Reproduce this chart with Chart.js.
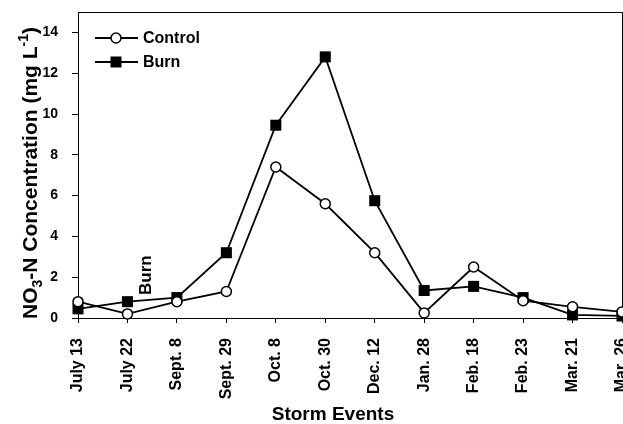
<!DOCTYPE html>
<html>
<head>
<meta charset="utf-8">
<script src="https://cdn.jsdelivr.net/npm/chart.js@4"></script>
<style>
  body { margin: 0; background: #fff; }
  canvas { display: block; }
</style>
</head>
<body>
<canvas id="no3Chart" width="623" height="424"></canvas>
<script>
// storm events and measured NO3-N (mg/L)
const storms = ['July 13', 'July 22', 'Sept. 8', 'Sept. 29', 'Oct. 8', 'Oct. 30',
                'Dec. 12', 'Jan. 28', 'Feb. 18', 'Feb. 23', 'Mar. 21', 'Mar. 26'];
const control = [0.8, 0.2, 0.8, 1.3, 7.4, 5.6, 3.2, 0.25, 2.5, 0.85, 0.55, 0.3];
const burn = [0.45, 0.8, 1.0, 3.2, 9.45, 12.8, 5.75, 1.35, 1.55, 1.0, 0.15, 0.1];
const yTickLabels = ['0', '2', '4', '6', '8', '10', '12', '14'];
const yMax = 15;

const FONT = '"Liberation Sans", Arial, sans-serif';

// box around plot, drawn before the lines so markers sit on top
const frame = {
    id: 'frame',
    beforeDatasetsDraw(chart) {
        const a = chart.chartArea;
        const ctx = chart.ctx;
        ctx.save();
        ctx.strokeStyle = '#000';
        ctx.lineWidth = 1;
        ctx.strokeRect(a.left + 0.5, a.top + 0.5, a.right - a.left, a.bottom - a.top);
        ctx.restore();
    }
};

// axis titles (y one has sub/superscripts), legend inside the plot, "Burn" note
const extras = {
    id: 'extras',
    afterDraw(chart) {
        const ctx = chart.ctx;
        ctx.save();
        ctx.fillStyle = '#000';

        // y axis title
        const big = 'bold 21px ' + FONT, small = 'bold 14px ' + FONT;
        const parts = [
            { t: 'NO', f: big, dy: 0 },
            { t: '3', f: small, dy: 5 },
            { t: '-N Concentration (mg L', f: big, dy: 0 },
            { t: '-1', f: small, dy: -9 },
            { t: ')', f: big, dy: 0 }
        ];
        let total = 0;
        parts.forEach(p => { ctx.font = p.f; p.w = ctx.measureText(p.t).width; total += p.w; });
        ctx.translate(37, 173);
        ctx.rotate(-Math.PI / 2);
        ctx.textBaseline = 'alphabetic';
        ctx.textAlign = 'left';
        let x = -total / 2;
        parts.forEach(p => { ctx.font = p.f; ctx.fillText(p.t, x, p.dy); x += p.w; });
        ctx.setTransform(1, 0, 0, 1, 0, 0);

        // x axis title, sits a little left of the plot centre in the original
        ctx.font = 'bold 19px ' + FONT;
        ctx.textAlign = 'center';
        ctx.fillText('Storm Events', 333, 420);

        // legend
        ctx.textAlign = 'left';
        const items = chart.data.datasets;
        items.forEach((ds, i) => {
            const y = 38 + i * 24;
            ctx.strokeStyle = '#000';
            ctx.lineWidth = 1.8;
            ctx.beginPath();
            ctx.moveTo(95, y);
            ctx.lineTo(138, y);
            ctx.stroke();
            if (ds.pointStyle === 'circle') {
                ctx.beginPath();
                ctx.arc(116, y, 5, 0, Math.PI * 2);
                ctx.fillStyle = '#fff';
                ctx.fill();
                ctx.lineWidth = 1.5;
                ctx.stroke();
            } else {
                ctx.fillStyle = '#000';
                ctx.fillRect(110.5, y - 5.5, 11, 11);
            }
            ctx.fillStyle = '#000';
            ctx.font = 'bold 16px ' + FONT;
            ctx.textBaseline = 'middle';
            ctx.fillText(ds.label, 143, y + 1);
        });

        // "Burn" marker near July 22
        const bx = chart.scales.x.getPixelForValue(1) + 24;
        const by = chart.scales.y.getPixelForValue(2.1);
        ctx.translate(bx, by);
        ctx.rotate(-Math.PI / 2);
        ctx.font = 'bold 17px ' + FONT;
        ctx.textAlign = 'center';
        ctx.textBaseline = 'alphabetic';
        ctx.fillText('Burn', 0, 0);
        ctx.restore();
    }
};

new Chart(document.getElementById('no3Chart').getContext('2d'), {
    type: 'line',
    data: {
        labels: storms,
        datasets: [{
            label: 'Control',
            data: control,
            borderColor: '#000',
            borderWidth: 1.8,
            pointStyle: 'circle',
            pointRadius: 5,
            pointBorderWidth: 1.5,
            pointBackgroundColor: '#fff',
            pointBorderColor: '#000',
            tension: 0,
            clip: false
        }, {
            label: 'Burn',
            data: burn,
            borderColor: '#000',
            borderWidth: 1.8,
            pointStyle: 'rect',
            pointRadius: 7.8,
            pointBorderWidth: 0,
            pointBackgroundColor: '#000',
            pointBorderColor: '#000',
            tension: 0,
            clip: false
        }]
    },
    options: {
        responsive: false,
        animation: false,
        layout: { autoPadding: false, padding: { top: 12, right: 1, left: 0, bottom: 0 } },
        plugins: {
            legend: { display: false },
            tooltip: { enabled: false }
        },
        scales: {
            x: {
                offset: false,
                grid: { drawOnChartArea: false, drawTicks: true, tickLength: 5, color: '#000', offset: false },
                border: { color: '#000', width: 1 },
                ticks: {
                    color: '#000',
                    font: { family: FONT, size: 16, weight: 'bold' },
                    minRotation: 90,
                    maxRotation: 90,
                    autoSkip: false,
                    padding: 15
                },
                afterFit(s) { s.height = 106; s.paddingLeft = 0; s.paddingRight = 0; }
            },
            y: {
                min: 0,
                max: yMax,
                grid: { drawOnChartArea: false, drawTicks: true, tickLength: 6, color: '#000' },
                border: { color: '#000', width: 1 },
                ticks: {
                    stepSize: 2,
                    includeBounds: false,
                    color: '#000',
                    padding: 14,
                    font: { family: FONT, size: 14, weight: 'bold' },
                    callback: (v) => yTickLabels[v / 2] ?? ''
                },
                afterFit(s) { s.width = 78; s.paddingTop = 0; s.paddingBottom = 0; }
            }
        }
    },
    plugins: [frame, extras]
});
</script>
</body>
</html>
